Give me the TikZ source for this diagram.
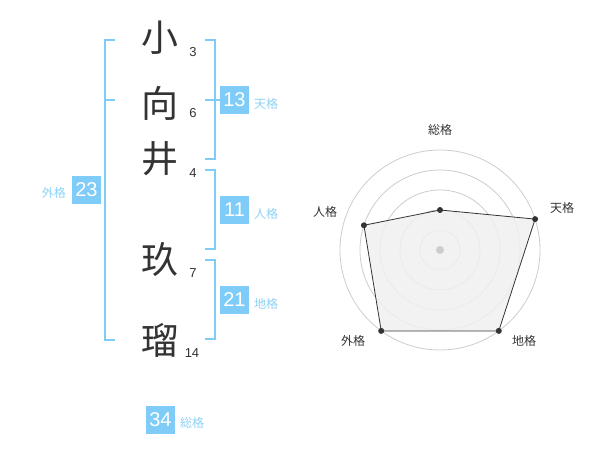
\documentclass[tikz,border=0pt]{standalone}
\usepackage{fontspec}
\setmainfont{Liberation Sans}
\newfontfamily\cjk{Noto Sans CJK JP}
\definecolor{kblue}{HTML}{80CCF8}
\definecolor{klabel}{HTML}{8CD2F5}
\definecolor{ktext}{HTML}{333333}
\definecolor{kgrid}{HTML}{CCCCCC}
\definecolor{kfill}{HTML}{F0F0F0}
\begin{document}
\begin{tikzpicture}[x=1pt,y=-1pt,
  kanji/.style={font=\cjk\fontsize{37}{37}\selectfont, text=ktext, inner sep=0pt},
  strokes/.style={font=\fontsize{13}{13}\selectfont, text=ktext, inner sep=0pt},
  numbox/.style={fill=kblue, text=white, font=\fontsize{20}{20}\selectfont, minimum width=29pt, minimum height=28pt, inner sep=0pt},
  kaku/.style={font=\cjk\fontsize{12}{12}\selectfont, text=klabel, inner sep=0pt},
  brk/.style={draw=kblue, line width=2pt},
  grid/.style={draw=kgrid, line width=0.8pt},
  rlabel/.style={font=\cjk\fontsize{12}{12}\selectfont, text=ktext, inner sep=0pt},
  dot/.style={circle, fill=ktext, inner sep=0pt, minimum size=6pt}]
\useasboundingbox (0,0) rectangle (600,470);
% characters
\node[kanji] (c1) at (160,38) {小};
\node[kanji] (c2) at (160,103) {向};
\node[kanji] (c3) at (160,159) {井};
\node[kanji] (c4) at (160,260) {玖};
\node[kanji] (c5) at (160,340) {瑠};
\node[strokes] (n1) at (193,52) {3};
\node[strokes] (n2) at (193,113) {6};
\node[strokes] (n3) at (193,173) {4};
\node[strokes] (n4) at (193,273) {7};
\node[strokes] (n5) at (192,353) {14};
% brackets
\draw[brk] (115,40) -- (105,40) -- (105,340) -- (115,340);
\draw[brk] (105,100) -- (115,100);
\draw[brk] (205,40) -- (215,40) -- (215,159) -- (205,159);
\draw[brk] (205,100) -- (220,100);
\draw[brk] (205,170) -- (215,170) -- (215,249) -- (205,249);
\draw[brk] (205,260) -- (215,260) -- (215,339) -- (205,339);
% boxes
\node[numbox] (b13) at (234.5,100) {13};
\node[kaku, anchor=west] (l13) at (254,104) {天格};
\node[numbox] (b11) at (234.5,210) {11};
\node[kaku, anchor=west] (l11) at (254,214) {人格};
\node[numbox] (b21) at (234.5,300) {21};
\node[kaku, anchor=west] (l21) at (254,304) {地格};
\node[numbox] (b23) at (86.5,190) {23};
\node[kaku, anchor=east] (l23) at (66,193) {外格};
\node[numbox] (b34) at (160.5,419.5) {34};
\node[kaku, anchor=west] (l34) at (180,423) {総格};
% radar
\coordinate (O) at (440,250);
\foreach \r in {20,40,60,80,100} \draw[grid] (O) circle (\r);
\path (O) ++(-90:40) coordinate (pS)
      (O) ++(-18:100) coordinate (pT)
      (O) ++(54:100) coordinate (pC)
      (O) ++(126:100) coordinate (pG)
      (O) ++(198:80) coordinate (pJ);
\draw[fill=kfill, fill opacity=0.85, draw=ktext, line width=0.8pt] (pS) -- (pT) -- (pC) -- (pG) -- (pJ) -- cycle;
\fill[kgrid] (O) circle (4);
\foreach \p in {pS,pT,pC,pG,pJ} \node[dot] at (\p) {};
\node[rlabel] (rS) at (440,130) {総格};
\node[rlabel] (rT) at (562,208) {天格};
\node[rlabel] (rJ) at (325,212) {人格};
\node[rlabel] (rG) at (353,341) {外格};
\node[rlabel] (rC) at (524,341) {地格};
\end{tikzpicture}
\end{document}
